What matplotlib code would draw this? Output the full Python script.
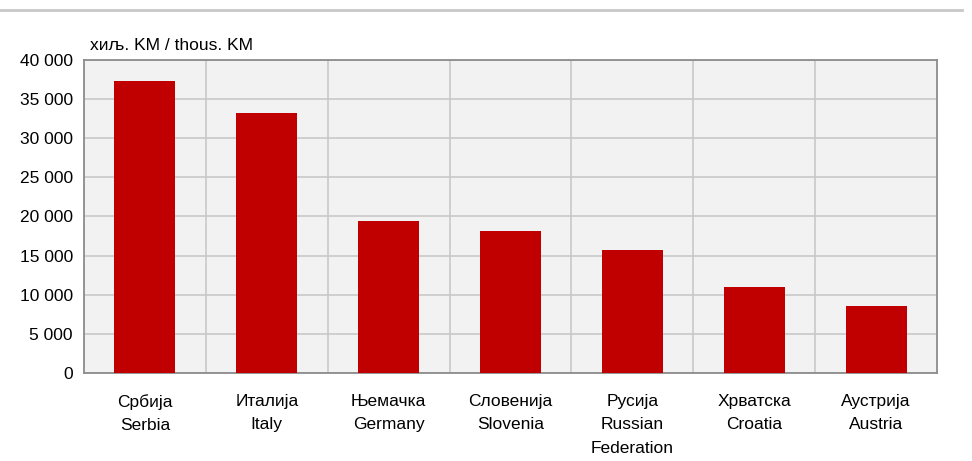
import matplotlib.pyplot as plt
from matplotlib.lines import Line2D
from matplotlib.ticker import FuncFormatter

countries = ['Србија\nSerbia', 'Италија\nItaly', 'Њемачка\nGermany', 'Словенија\nSlovenia',
             'Русија\nRussian\nFederation', 'Хрватска\nCroatia', 'Аустрија\nAustria']
values = [37300, 33200, 19400, 18100, 15700, 11000, 8550]

plt.rcParams['font.family'] = ['Liberation Sans', 'DejaVu Sans']
plt.rcParams['font.size'] = 12.5

fig = plt.figure(figsize=(9.72, 4.61), dpi=100)
ax = fig.add_axes([84 / 972, 1 - 373 / 461, (937 - 84) / 972, (373 - 60) / 461])
ax.set_facecolor('#F2F2F2')

x = range(len(countries))
ax.bar(x, values, width=0.5, color='#C00000', zorder=3)

ax.set_xlim(-0.5, len(countries) - 0.5)
ax.set_ylim(0, 40000)
ax.set_yticks(range(0, 40001, 5000))
ax.yaxis.set_major_formatter(FuncFormatter(lambda v, p: f'{int(v):,}'.replace(',', ' ')))
ax.set_xticks(list(x))
ax.set_xticklabels(countries, linespacing=1.7)
ax.set_xticks([i + 0.5 for i in range(len(countries) - 1)], minor=True)

ax.grid(True, axis='y', color='#C8C8C8', linewidth=1.2, zorder=0)
ax.grid(True, axis='x', which='minor', color='#C8C8C8', linewidth=1.2, zorder=0)
ax.tick_params(axis='both', which='both', length=0)
ax.tick_params(axis='x', pad=15)
ax.tick_params(axis='y', pad=8)
for s in ax.spines.values():
    s.set_color('#8C8C8C')
    s.set_linewidth(1.3)

fig.text(90 / 972, 1 - 45 / 461, 'хиљ. KM / thous. KM', fontsize=12.5, va='center')
fig.add_artist(Line2D([0.0, 0.99], [1 - 10 / 461, 1 - 10 / 461], transform=fig.transFigure,
                      color='#C8C8C8', linewidth=2))

fig.savefig('out.png', dpi=100)
